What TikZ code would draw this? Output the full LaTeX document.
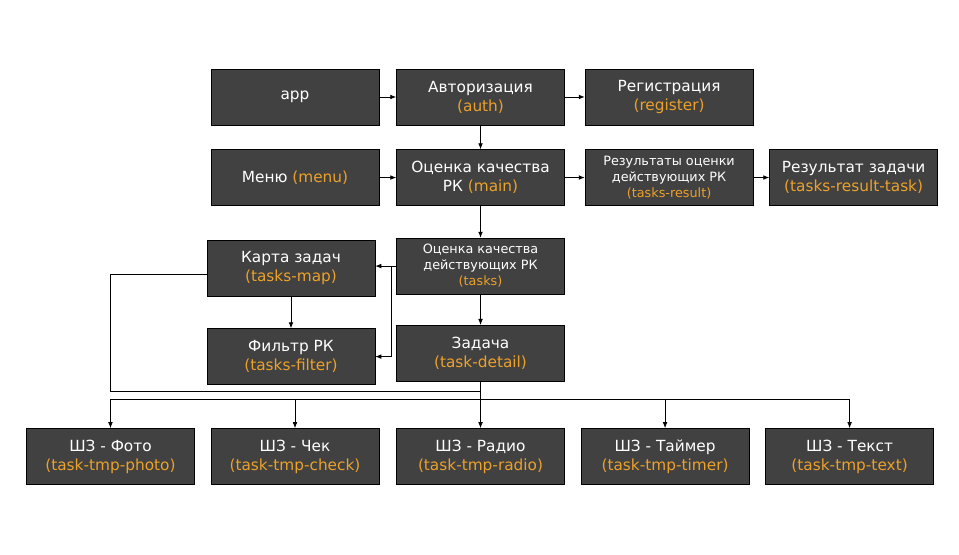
\documentclass[tikz,border=0pt]{standalone}
\usepackage{fontspec}
\setmainfont{DejaVu Sans}
\usepackage{tikz}
\usetikzlibrary{arrows.meta,positioning,calc}
\definecolor{boxFill}{HTML}{414141}
\definecolor{boxOrange}{HTML}{EBA12A}
\newcommand{\orn}[1]{\textcolor{boxOrange}{#1}}
\tikzset{
  page/.style={
    rectangle, draw=black, fill=boxFill, text=white,
    minimum width=126pt, minimum height=42pt,
    align=center, inner sep=2pt,
    font=\fontsize{11.5}{14.25}\selectfont
  },
  pagesm/.style={page, font=\fontsize{9.6}{12}\selectfont},
  flow/.style={-{Latex[length=4.5pt,width=3.5pt]}, draw=black, line width=0.6pt},
  wire/.style={draw=black, line width=0.6pt}
}

\begin{document}
\begin{tikzpicture}[node distance=18pt and 12.75pt]
  \useasboundingbox[fill=white] (-221.25pt,72.75pt) rectangle (498pt,-343.5pt);

  % top rows
  \node[page]                         (app)    {app};
  \node[page, right=of app]           (auth)   {Авторизация\\\orn{(auth)}};
  \node[page, right=15pt of auth]     (reg)    {Регистрация\\\orn{(register)}};
  \node[page, below=of app]           (menu)   {Меню \orn{(menu)}};
  \node[page, below=of auth]          (main)   {Оценка качества\\РК \orn{(main)}};
  \node[pagesm, below=of reg]         (tres)   {Результаты оценки\\действующих РК\\\orn{(tasks-result)}};
  \node[page, right=12pt of tres]     (rtask)  {Результат задачи\\\orn{(tasks-result-task)}};

  % tasks block
  \node[pagesm, below=24pt of main]   (tasks)  {Оценка качества\\действующих РК\\\orn{(tasks)}};
  \node[page, below=23pt of tasks]    (detail) {Задача\\\orn{(task-detail)}};
  \node[page, left=15.75pt of tasks, yshift=-1.5pt]  (map)    {Карта задач\\\orn{(tasks-map)}};
  \node[page, below=24pt of map]      (filter) {Фильтр РК\\\orn{(tasks-filter)}};

  % task templates
  \node[page, below=35pt of detail]   (radio)  {ШЗ - Радио\\\orn{(task-tmp-radio)}};
  \node[page, left=12.75pt of radio]  (check)  {ШЗ - Чек\\\orn{(task-tmp-check)}};
  \node[page, left=12pt of check]     (photo)  {ШЗ - Фото\\\orn{(task-tmp-photo)}};
  \node[page, right=12pt of radio]    (timer)  {ШЗ - Таймер\\\orn{(task-tmp-timer)}};
  \node[page, right=12pt of timer]    (text)   {ШЗ - Текст\\\orn{(task-tmp-text)}};

  \coordinate (split) at ([xshift=-4pt]tasks.west);
  \coordinate (loop)  at ([yshift=-7.5pt]detail.south);
  \coordinate (bus)   at ([yshift=-13.5pt]detail.south);

  % arrows
  \draw[flow] (app)   -- (auth);
  \draw[flow] (auth)  -- (reg);
  \draw[flow] (auth)  -- (main);
  \draw[flow] (menu)  -- (main);
  \draw[flow] (main)  -- (tres);
  \draw[flow] (tres)  -- (rtask);
  \draw[flow] (main)  -- (tasks);
  \draw[flow] (tasks) -- (detail);
  \draw[flow] (tasks.west) -- (tasks.west -| map.east);
  \draw[flow] (split) |- (filter.east);
  \draw[flow] (map)   -- (filter);
  \draw[wire] ([yshift=-4.5pt]map.west) -| (loop -| photo) -- (loop);
  \draw[flow] (detail) -- (radio);
  \draw[wire] (bus -| photo) -- (bus -| text);
  \foreach \t in {photo,check,timer,text}
    \draw[flow] (bus -| \t) -- (\t);
\end{tikzpicture}
\end{document}
